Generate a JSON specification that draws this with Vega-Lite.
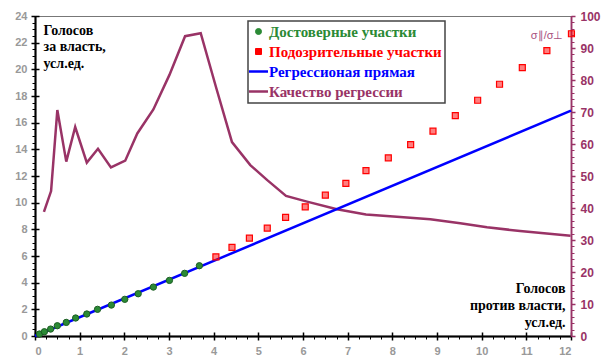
{
  "$schema": "https://vega.github.io/schema/vega-lite/v6.json",
  "width": 536,
  "height": 320,
  "autosize": {"type": "none"},
  "padding": {"left": 35, "top": 16, "right": 32, "bottom": 24},
  "background": "white",
  "config": {
    "view": {"stroke": "#777", "strokeWidth": 1},
    "axis": {"grid": false, "labelFont": "Liberation Sans", "labelFontWeight": "bold", "labelFontSize": 11, "labelColor": "#999", "domainColor": "black", "tickColor": "black", "domainWidth": 1.5},
    "legend": {"fillColor": "white", "strokeColor": "#444", "strokeWidth": 1.5, "labelLimit": 300}
  },
  "datasets": {
    "reg": [
      {"x": 0, "y": 0, "series": "Регрессионая прямая"},
      {"x": 12, "y": 16.9, "series": "Регрессионая прямая"}
    ],
    "good": [
      {"x": 0.10, "y": 0.15, "series": "Достоверные участки"},
      {"x": 0.21, "y": 0.32, "series": "Достоверные участки"},
      {"x": 0.35, "y": 0.52, "series": "Достоверные участки"},
      {"x": 0.50, "y": 0.77, "series": "Достоверные участки"},
      {"x": 0.70, "y": 1.02, "series": "Достоверные участки"},
      {"x": 0.91, "y": 1.35, "series": "Достоверные участки"},
      {"x": 1.16, "y": 1.65, "series": "Достоверные участки"},
      {"x": 1.40, "y": 2.00, "series": "Достоверные участки"},
      {"x": 1.71, "y": 2.32, "series": "Достоверные участки"},
      {"x": 2.01, "y": 2.75, "series": "Достоверные участки"},
      {"x": 2.31, "y": 3.17, "series": "Достоверные участки"},
      {"x": 2.65, "y": 3.67, "series": "Достоверные участки"},
      {"x": 3.01, "y": 4.17, "series": "Достоверные участки"},
      {"x": 3.35, "y": 4.70, "series": "Достоверные участки"},
      {"x": 3.68, "y": 5.27, "series": "Достоверные участки"}
    ],
    "bad": [
      {"x": 4.05, "y": 5.94, "series": "Подозрительные участки"},
      {"x": 4.41, "y": 6.64, "series": "Подозрительные участки"},
      {"x": 4.80, "y": 7.34, "series": "Подозрительные участки"},
      {"x": 5.20, "y": 8.09, "series": "Подозрительные участки"},
      {"x": 5.61, "y": 8.89, "series": "Подозрительные участки"},
      {"x": 6.05, "y": 9.69, "series": "Подозрительные участки"},
      {"x": 6.50, "y": 10.56, "series": "Подозрительные участки"},
      {"x": 6.96, "y": 11.44, "series": "Подозрительные участки"},
      {"x": 7.41, "y": 12.41, "series": "Подозрительные участки"},
      {"x": 7.91, "y": 13.36, "series": "Подозрительные участки"},
      {"x": 8.41, "y": 14.36, "series": "Подозрительные участки"},
      {"x": 8.91, "y": 15.36, "series": "Подозрительные участки"},
      {"x": 9.41, "y": 16.53, "series": "Подозрительные участки"},
      {"x": 9.91, "y": 17.68, "series": "Подозрительные участки"},
      {"x": 10.40, "y": 18.88, "series": "Подозрительные участки"},
      {"x": 10.91, "y": 20.13, "series": "Подозрительные участки"},
      {"x": 11.46, "y": 21.40, "series": "Подозрительные участки"},
      {"x": 12.01, "y": 22.67, "series": "Подозрительные участки"}
    ],
    "quality": [
      {"x": 0.20, "q": 38.8, "series": "Качество регрессии"},
      {"x": 0.36, "q": 45.3, "series": "Качество регрессии"},
      {"x": 0.50, "q": 70.6, "series": "Качество регрессии"},
      {"x": 0.70, "q": 54.5, "series": "Качество регрессии"},
      {"x": 0.90, "q": 65.3, "series": "Качество регрессии"},
      {"x": 1.16, "q": 54.2, "series": "Качество регрессии"},
      {"x": 1.41, "q": 58.5, "series": "Качество регрессии"},
      {"x": 1.70, "q": 52.7, "series": "Качество регрессии"},
      {"x": 2.02, "q": 54.8, "series": "Качество регрессии"},
      {"x": 2.29, "q": 63.3, "series": "Качество регрессии"},
      {"x": 2.65, "q": 70.8, "series": "Качество регрессии"},
      {"x": 3.01, "q": 81.6, "series": "Качество регрессии"},
      {"x": 3.36, "q": 93.7, "series": "Качество регрессии"},
      {"x": 3.71, "q": 94.6, "series": "Качество регрессии"},
      {"x": 4.05, "q": 77.9, "series": "Качество регрессии"},
      {"x": 4.41, "q": 60.6, "series": "Качество регрессии"},
      {"x": 4.82, "q": 53.4, "series": "Качество регрессии"},
      {"x": 5.20, "q": 48.7, "series": "Качество регрессии"},
      {"x": 5.62, "q": 43.8, "series": "Качество регрессии"},
      {"x": 6.09, "q": 42.0, "series": "Качество регрессии"},
      {"x": 6.76, "q": 39.6, "series": "Качество регрессии"},
      {"x": 7.41, "q": 38.0, "series": "Качество регрессии"},
      {"x": 8.10, "q": 37.3, "series": "Качество регрессии"},
      {"x": 8.85, "q": 36.5, "series": "Качество регрессии"},
      {"x": 9.52, "q": 35.2, "series": "Качество регрессии"},
      {"x": 10.12, "q": 34.0, "series": "Качество регрессии"},
      {"x": 10.86, "q": 32.8, "series": "Качество регрессии"},
      {"x": 11.99, "q": 31.3, "series": "Качество регрессии"}
    ]
  },
  "resolve": {
    "scale": {"x": "independent", "y": "independent"},
    "axis": {"x": "independent", "y": "independent"}
  },
  "layer": [
    {
      "data": {"name": "quality"},
      "mark": {"type": "line", "strokeWidth": 2.5, "clip": true},
      "encoding": {
        "x": {"field": "x", "type": "quantitative", "scale": {"domain": [0, 12], "nice": false, "zero": false},
          "axis": {"orient": "bottom", "values": [0,1,2,3,4,5,6,7,8,9,10,11,12], "tickSize": 4, "tickWidth": 1.5, "labelPadding": 5,
            "title": ["Голосов", "против власти,", "усл.ед."], "titleAngle": 0, "titleAlign": "right", "titleBaseline": "bottom",
            "titleX": 530, "titleY": -41, "titleFont": "Liberation Serif", "titleFontSize": 14, "titleFontWeight": "bold", "titleColor": "black", "titleLineHeight": 17}},
        "y": {"field": "q", "type": "quantitative", "scale": {"domain": [0, 100], "nice": false, "zero": false},
          "axis": {"orient": "right", "values": [0,10,20,30,40,50,60,70,80,90,100], "tickSize": 4, "tickWidth": 1.5, "tickColor": "#993366",
            "domainColor": "#993366", "labelColor": "#993366", "labelFontSize": 12, "labelPadding": 5,
            "title": "σ∥/σ⊥", "titleAngle": 0, "titleAlign": "right", "titleBaseline": "middle", "titleX": -8, "titleY": 19,
            "titleFont": "Liberation Sans", "titleFontSize": 11, "titleFontWeight": "normal", "titleColor": "#a8507e"}},
        "color": {"field": "series", "type": "nominal",
          "scale": {"domain": ["Достоверные участки", "Подозрительные участки", "Регрессионая прямая", "Качество регрессии"],
                    "range": ["#2b8a35", "#ff0000", "#0000ff", "#993366"]},
          "legend": {
            "orient": "none", "legendX": 213, "legendY": 5, "title": null, "direction": "vertical", "columns": 1,
            "fillColor": "white", "strokeColor": "#444", "padding": 3, "labelLimit": 300,
            "labelFont": "Liberation Serif", "labelFontSize": 15, "labelFontWeight": "bold", "labelOffset": 3, "rowPadding": 4,
            "labelColor": {"expr": "datum.value == 'Достоверные участки' ? '#2b8a35' : datum.value == 'Подозрительные участки' ? '#ff0000' : datum.value == 'Регрессионая прямая' ? '#0000ff' : '#993366'"},
            "symbolType": {"expr": "datum.value == 'Достоверные участки' ? 'circle' : datum.value == 'Подозрительные участки' ? 'square' : 'stroke'"},
            "symbolSize": {"expr": "(datum.value == 'Достоверные участки' || datum.value == 'Подозрительные участки') ? 36 : 361"},
            "symbolStrokeWidth": {"expr": "(datum.value == 'Достоверные участки' || datum.value == 'Подозрительные участки') ? 1 : 2.5"}
          }}
      }
    },
    {
      "data": {"name": "reg"},
      "mark": {"type": "line", "strokeWidth": 2.5},
      "encoding": {
        "x": {"field": "x", "type": "quantitative", "scale": {"domain": [0, 12], "nice": false, "zero": false},
          "axis": {"orient": "bottom", "values": [0,1,2,3,4,5,6,7,8,9,10,11,12], "tickSize": -4, "tickWidth": 1.5, "labels": false, "title": null}},
        "y": {"field": "y", "type": "quantitative", "scale": {"domain": [0, 24], "nice": false, "zero": false},
          "axis": {"orient": "left", "values": [0,2,4,6,8,10,12,14,16,18,20,22,24], "tickSize": 4, "tickWidth": 1.5, "labelPadding": 4,
            "title": ["Голосов", "за власть,", "усл.ед."], "titleAngle": 0, "titleAlign": "left", "titleBaseline": "top",
            "titleX": 8, "titleY": 7, "titleFont": "Liberation Serif", "titleFontSize": 14, "titleFontWeight": "bold", "titleColor": "black", "titleLineHeight": 16.5}},
        "color": {"field": "series", "type": "nominal"}
      }
    },
    {
      "data": {"name": "good"},
      "mark": {"type": "point", "shape": "circle", "filled": true, "size": 40, "opacity": 1, "stroke": "#1d5e24", "strokeWidth": 1},
      "encoding": {
        "x": {"field": "x", "type": "quantitative", "scale": {"domain": [0, 12], "nice": false, "zero": false},
          "axis": {"orient": "bottom", "values": [0,0.25,0.5,0.75,1,1.25,1.5,1.75,2,2.25,2.5,2.75,3,3.25,3.5,3.75,4,4.25,4.5,4.75,5,5.25,5.5,5.75,6,6.25,6.5,6.75,7,7.25,7.5,7.75,8,8.25,8.5,8.75,9,9.25,9.5,9.75,10,10.25,10.5,10.75,11,11.25,11.5,11.75,12], "tickSize": 3, "tickWidth": 1, "labels": false, "title": null}},
        "y": {"field": "y", "type": "quantitative", "scale": {"domain": [0, 24], "nice": false, "zero": false},
          "axis": {"orient": "left", "values": [0,2,4,6,8,10,12,14,16,18,20,22,24], "tickSize": -4, "tickWidth": 1.5, "labels": false, "title": null}},
        "color": {"field": "series", "type": "nominal"}
      }
    },
    {
      "data": {"name": "bad"},
      "mark": {"type": "point", "shape": "square", "filled": true, "size": 36, "opacity": 1, "fillOpacity": 0.5, "stroke": "#ff0000", "strokeWidth": 1.2},
      "encoding": {
        "x": {"field": "x", "type": "quantitative", "scale": {"domain": [0, 12], "nice": false, "zero": false}, "axis": null},
        "y": {"field": "y", "type": "quantitative", "scale": {"domain": [0, 24], "nice": false, "zero": false},
          "axis": {"orient": "left", "values": [0,0.5,1,1.5,2,2.5,3,3.5,4,4.5,5,5.5,6,6.5,7,7.5,8,8.5,9,9.5,10,10.5,11,11.5,12,12.5,13,13.5,14,14.5,15,15.5,16,16.5,17,17.5,18,18.5,19,19.5,20,20.5,21,21.5,22,22.5,23,23.5,24], "tickSize": 3, "tickWidth": 1, "labels": false, "title": null}},
        "color": {"field": "series", "type": "nominal"}
      }
    },
    {
      "data": {"name": "quality"},
      "mark": {"type": "point", "opacity": 0},
      "encoding": {
        "x": {"field": "x", "type": "quantitative", "scale": {"domain": [0, 12], "nice": false, "zero": false}, "axis": null},
        "y": {"field": "q", "type": "quantitative", "scale": {"domain": [0, 100], "nice": false, "zero": false},
          "axis": {"orient": "right", "values": [0,2,4,6,8,10,12,14,16,18,20,22,24,26,28,30,32,34,36,38,40,42,44,46,48,50,52,54,56,58,60,62,64,66,68,70,72,74,76,78,80,82,84,86,88,90,92,94,96,98,100], "tickSize": 3, "tickWidth": 1, "tickColor": "#993366", "domainColor": "#993366", "labels": false, "title": null}}
      }
    }
  ]
}
